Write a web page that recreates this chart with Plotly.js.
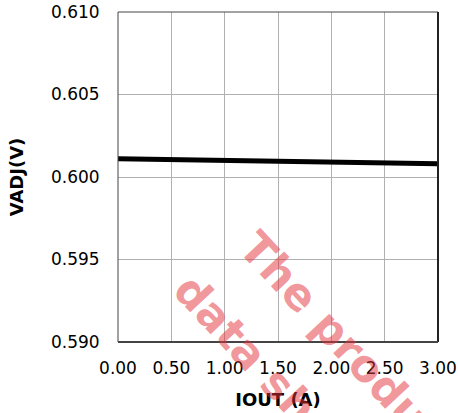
<!DOCTYPE html>
<html>
<head>
<meta charset="utf-8">
<script src="https://cdn.plot.ly/plotly-3.0.1.min.js"></script>
<style>html,body{margin:0;padding:0;background:#fff;}#chart{width:458px;height:413px;}</style>
</head>
<body>
<div id="chart"></div>
<script>
const ioutA = [0.0, 0.5, 1.0, 1.5, 2.0, 2.5, 3.0];
const vadjV = [0.60110, 0.60105, 0.60100, 0.60095, 0.60090, 0.60085, 0.60080];
const xTickVals = [0, 0.5, 1.0, 1.5, 2.0, 2.5, 3.0];
const xTickText = ['0.00', '0.50', '1.00', '1.50', '2.00', '2.50', '3.00'];
const yTickVals = [0.590, 0.595, 0.600, 0.605, 0.610];
const yTickText = ['0.590', '0.595', '0.600', '0.605', '0.610'];
const watermarkLines = ['The product', 'data sheet'];

const font = 'DejaVu Sans, Verdana, sans-serif';
const trace = {
  x: ioutA, y: vadjV, type: 'scatter', mode: 'lines',
  line: {color: '#000', width: 5}, hoverinfo: 'skip'
};
const axisCommon = {
  showgrid: true, gridcolor: '#b0b0b0', gridwidth: 1,
  zeroline: false, showline: false,
  ticks: 'outside', ticklen: 14, tickcolor: 'rgba(0,0,0,0)',
  tickfont: {family: font, size: 17, color: '#000'},
  fixedrange: true
};
const layout = {
  width: 458, height: 413,
  margin: {l: 118, r: 20, t: 12, b: 71},
  paper_bgcolor: '#fff', plot_bgcolor: '#fff',
  showlegend: false,
  xaxis: Object.assign({}, axisCommon, {
    range: [0, 3], tickvals: xTickVals, ticktext: xTickText, ticklen: 11,
    title: {text: '<b>IOUT (A)</b>', font: {family: font, size: 18, color: '#000'}, standoff: 15}
  }),
  yaxis: Object.assign({}, axisCommon, {
    range: [0.590, 0.610], tickvals: yTickVals, ticktext: yTickText,
    title: {text: '<b>VADJ(V)</b>', font: {family: font, size: 18, color: '#000'}, standoff: 22}
  }),
  shapes: [
    {type: 'line', xref: 'paper', yref: 'paper', x0: 0, x1: 0, y0: 0, y1: 1, line: {color: '#444', width: 1}},
    {type: 'line', xref: 'paper', yref: 'paper', x0: 0, x1: 1, y0: 1, y1: 1, line: {color: '#444', width: 1}},
    {type: 'line', xref: 'paper', yref: 'paper', x0: 1, x1: 1, y0: 0, y1: 1, line: {color: '#222', width: 2}},
    {type: 'line', xref: 'paper', yref: 'paper', x0: 0, x1: 1, y0: 0, y1: 0, line: {color: '#444', width: 2}}
  ],
  annotations: [
    {text: '<b>' + watermarkLines[0] + '</b>', xref: 'paper', yref: 'paper', x: 0.725, y: -0.021,
     xanchor: 'center', yanchor: 'middle', textangle: 47, showarrow: false,
     font: {family: font, size: 44, color: 'rgba(228,50,60,0.52)'}},
    {text: '<b>' + watermarkLines[1] + '</b>', xref: 'paper', yref: 'paper', x: 0.484, y: -0.112,
     xanchor: 'center', yanchor: 'middle', textangle: 47, showarrow: false,
     font: {family: font, size: 44, color: 'rgba(228,50,60,0.52)'}}
  ]
};
Plotly.newPlot('chart', [trace], layout, {displayModeBar: false, staticPlot: true});
</script>
</body>
</html>
